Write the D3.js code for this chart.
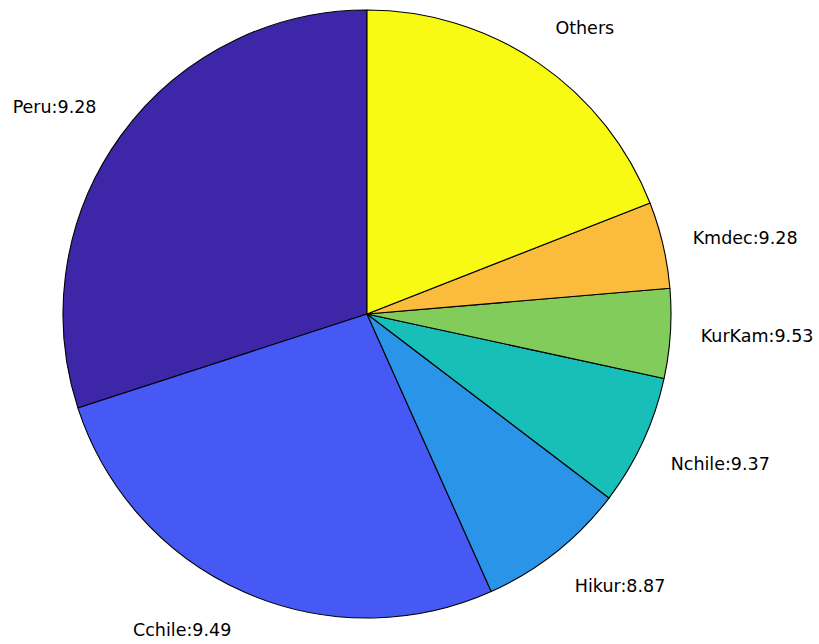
<!DOCTYPE html>
<html>
<head>
<meta charset="utf-8">
<script src="https://cdn.jsdelivr.net/npm/d3@7"></script>
<style>
  html, body { margin: 0; padding: 0; background: #fff; }
  svg { display: block; }
</style>
</head>
<body>
<svg id="chart" width="819" height="644"></svg>
<script>
// Data (counter-clockwise from 12 o'clock)
const categories = ["Peru", "Cchile", "Hikur", "Nchile", "KurKam", "Kmdec", "Others"];
const shares = [30.0, 26.7, 7.95, 6.95, 4.75, 4.6, 19.05];
const magnitudes = ["9.28", "9.49", "8.87", "9.37", "9.53", "9.28", null];
const colors = ["#3e26a8", "#4659f4", "#2994e8", "#17bfb8", "#81cc5a", "#fbbb3d", "#f8fa14"];

const data = categories.map((c, i) => ({
  name: c,
  value: shares[i],
  label: magnitudes[i] ? c + ":" + magnitudes[i] : c,
  color: colors[i]
}));

const svg = d3.select("#chart");
const cx = 367, cy = 314, r = 304;
const g = svg.append("g").attr("transform", `translate(${cx},${cy})`);

const pie = d3.pie().value(d => d.value).sort(null)
  .startAngle(0).endAngle(-2 * Math.PI);
const arc = d3.arc().innerRadius(0).outerRadius(r);
const arcs = pie(data);

g.selectAll("path.slice").data(arcs).join("path")
  .attr("class", "slice")
  .attr("d", arc)
  .attr("fill", d => d.data.color)
  .attr("stroke", "#000")
  .attr("stroke-width", 1.1)
  .attr("stroke-linejoin", "round");

const lr = r * 1.1;
g.selectAll("text.lbl").data(arcs).join("text")
  .attr("class", "lbl")
  .each(function(d) {
    const mid = (d.startAngle + d.endAngle) / 2; // clockwise from top (negative)
    const x = lr * Math.sin(mid);
    const y = -lr * Math.cos(mid);
    const s = Math.cos(mid); // vertical component (up positive)
    const t = d3.select(this);
    t.attr("x", x).attr("y", y)
     .attr("text-anchor", x >= 0 ? "start" : "end");
    if (Math.abs(s) < 0.3) t.attr("dominant-baseline", "central");
    else if (s > 0) t.attr("dominant-baseline", "text-after-edge");
    else t.attr("dominant-baseline", "text-before-edge");
  })
  .attr("font-family", "DejaVu Sans, sans-serif")
  .attr("font-size", "17.5px")
  .attr("fill", "#000")
  .text(d => d.data.label);
</script>
</body>
</html>
